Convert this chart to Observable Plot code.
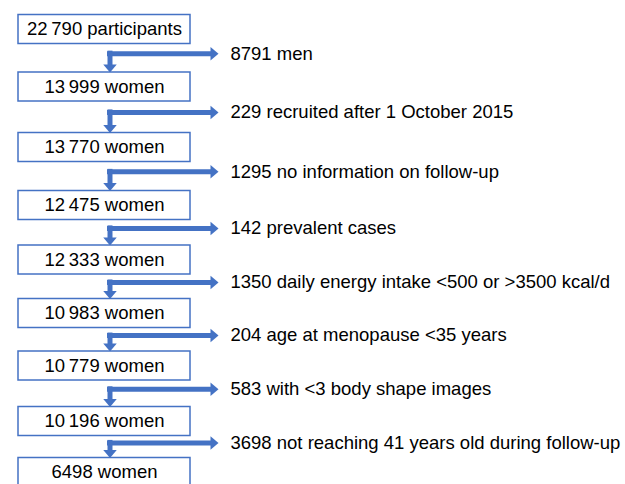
<!DOCTYPE html>
<html>
<head>
<meta charset="utf-8">
<script src="https://cdn.jsdelivr.net/npm/d3@7"></script>
<script src="https://cdn.jsdelivr.net/npm/@observablehq/plot@0.6"></script>
<style>
  html, body { margin: 0; padding: 0; background: #fff; }
  #chart svg { display: block; }
</style>
</head>
<body>
<div id="chart"></div>
<script>
// ---- data ----
const boxCounts = [22790, 13999, 13770, 12475, 12333, 10983, 10779, 10196, 6498];
const boxUnits = ["participants", "women", "women", "women", "women", "women", "women", "women", "women"];
const excludedCounts = [8791, 229, 1295, 142, 1350, 204, 583, 3698];
const excludedReasons = [
  "men",
  "recruited after 1 October 2015",
  "no information on follow-up",
  "prevalent cases",
  "daily energy intake <500 or >3500 kcal/d",
  "age at menopause <35 years",
  "with <3 body shape images",
  "not reaching 41 years old during follow-up"
];

// ---- formatting ----
const fmtGroup = d3.formatLocale({thousands: "\u2009", grouping: [3], decimal: "."}).format(",d");
const fmt = n => n >= 10000 ? fmtGroup(n) : String(n);

const boxes = boxCounts.map((n, i) => ({i, label: `${fmt(n)} ${boxUnits[i]}`}));
const excl = excludedCounts.map((n, i) => ({i, label: `${fmt(n)} ${excludedReasons[i]}`}));

// ---- layout (style) ----
const BLUE = "#4472C4";
const BOX_X1 = 18, BOX_X2 = 190, BOX_CX = 104;
const STEM_X = 109.5, SHAFT_END = 211, HEAD_X = 214, TEXT_X = 230;
const HALF = 14.5;  // half box height, px
const E = 0.42;     // elbow position between steps
const SW = 5;       // arrow shaft width
const HEAD_LEN = 8, HEAD_W = 13.5;
const FONT = "Arial, 'Liberation Sans', Helvetica, sans-serif";
const stepRange = [29, 86.5, 147, 205, 259.5, 313, 365.5, 421, 472];

// arrowhead symbol pointing right, centred at the middle of its length
const arrowHead = {
  draw(ctx) {
    ctx.moveTo(-HEAD_LEN / 2, -HEAD_W / 2);
    ctx.lineTo(HEAD_LEN / 2, 0);
    ctx.lineTo(-HEAD_LEN / 2, HEAD_W / 2);
    ctx.closePath();
  }
};

const chart = Plot.plot({
  width: 625,
  height: 484,
  margin: 0,
  x: {type: "linear", domain: [0, 625], range: [0, 625], axis: null},
  y: {type: "linear", domain: d3.range(stepRange.length), range: stepRange, axis: null},
  style: {fontFamily: FONT, background: "#fff"},
  marks: [
    // horizontal shafts
    Plot.ruleY(excl, {y: d => d.i + E, x1: () => STEM_X - SW / 2, x2: () => SHAFT_END, stroke: BLUE, strokeWidth: SW, strokeLinecap: "butt"}),
    // vertical shafts
    Plot.ruleX(excl, {x: () => STEM_X, y1: d => d.i + E, y2: d => d.i + 1, insetTop: -SW / 2, insetBottom: HALF + HEAD_LEN - 1, stroke: BLUE, strokeWidth: SW, strokeLinecap: "butt"}),
    // arrow heads
    Plot.dot(excl, {x: () => HEAD_X, y: d => d.i + E, symbol: arrowHead, fill: BLUE, stroke: "none"}),
    Plot.dot(excl, {x: () => STEM_X, y: d => d.i + 1, dy: -HALF - HEAD_LEN / 2, symbol: arrowHead, rotate: 90, fill: BLUE, stroke: "none"}),
    // boxes
    Plot.rect(boxes, {x1: () => BOX_X1, x2: () => BOX_X2, y1: "i", y2: "i", insetTop: -HALF, insetBottom: -HALF, fill: "white", stroke: BLUE, strokeWidth: 1.5}),
    Plot.text(boxes, {x: () => BOX_CX, y: "i", text: "label", fontSize: 18.5, fill: "#000", fontFamily: FONT}),
    Plot.text(excl, {x: () => TEXT_X, y: d => d.i + E, text: "label", textAnchor: "start", fontSize: 18.5, fill: "#000", fontFamily: FONT})
  ]
});
document.getElementById("chart").appendChild(chart);
</script>
</body>
</html>
